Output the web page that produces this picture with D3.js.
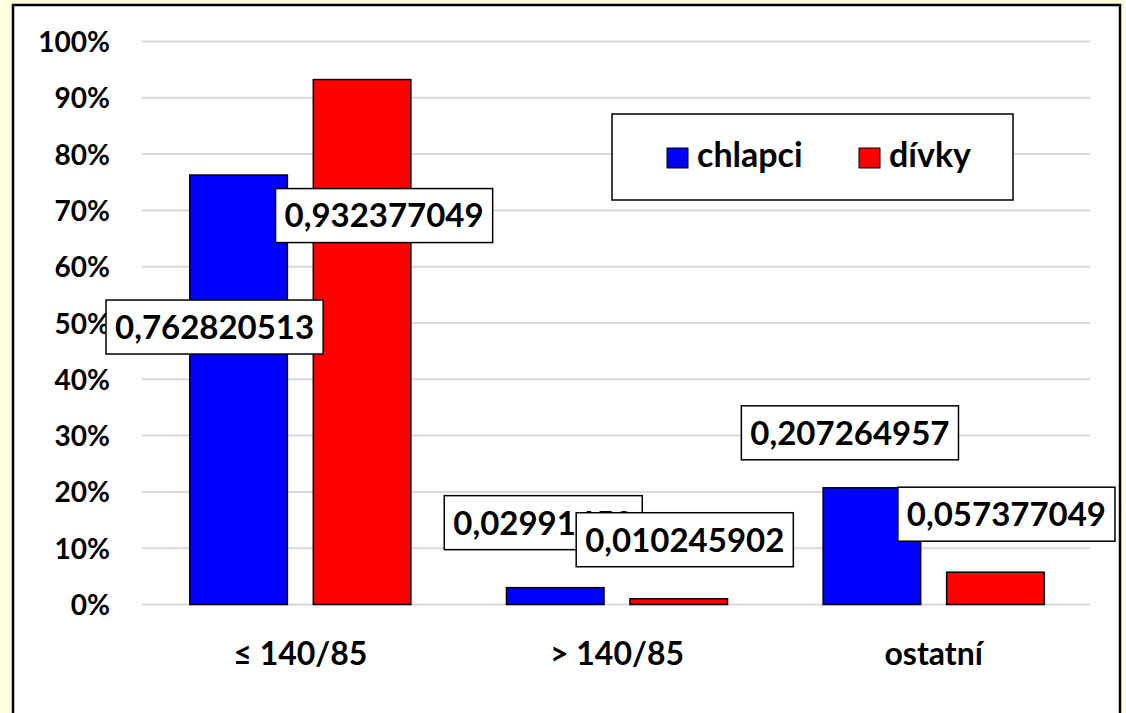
<!DOCTYPE html>
<html>
<head>
<meta charset="utf-8">
<script src="https://cdn.jsdelivr.net/npm/d3@7/dist/d3.min.js"></script>
<style>
  body { margin: 0; background: #FFFFDD; }
  text { font-family: Lato, "Open Sans", sans-serif; font-weight: bold; fill: #000; }
</style>
</head>
<body>
<div id="chart"></div>
<script>
// data
var categories = ["≤ 140/85", "> 140/85", "ostatní"]
var seriesNames = ["chlapci", "dívky"]
var chlapci = [0.762820513, 0.02991453, 0.207264957]
var divky = [0.932377049, 0.010245902, 0.057377049]
var yTicks = [0, 0.1, 0.2, 0.3, 0.4, 0.5, 0.6, 0.7, 0.8, 0.9, 1]
var colors = ["#0000FF", "#FF0000"]

// hand-placed data label offsets (px) from the top centre of each bar
var labelOffsets = [
  [[-24, 152], [-12, -65], [-22, -55]],
  [[22, 136], [6, -59], [11, -58]]
]

var width = 1126, height = 713

var svg = d3.select("#chart")
  .append("svg")
    .attr("width", width)
    .attr("height", height)

// chart frame
svg.append("rect")
  .attr("x", 13).attr("y", 5)
  .attr("width", 1107).attr("height", 740)
  .attr("fill", "#fff")
  .attr("stroke", "#000")
  .attr("stroke-width", 2.5)

var x = d3.scaleBand()
  .domain(categories)
  .range([142, 1092])

var x1 = d3.scaleBand()
  .domain(seriesNames)
  .range([0, x.bandwidth()])
  .paddingInner(0.21)
  .paddingOuter(0.387)

var y = d3.scaleLinear()
  .domain([0, 1])
  .range([604.5, 41.5])

// gridlines
svg.append("g")
  .selectAll("line")
  .data(yTicks)
  .enter()
  .append("line")
    .attr("x1", 142).attr("x2", 1090)
    .attr("y1", function(d) { return y(d) })
    .attr("y2", function(d) { return y(d) })
    .attr("stroke", "#d9d9d9")
    .attr("stroke-width", 2)

// y axis labels
var yAxis = svg.append("g")
  .attr("transform", "translate(110,0)")
  .call(d3.axisLeft(y).tickValues(yTicks).tickSize(0).tickPadding(0)
    .tickFormat(function(d) { return Math.round(d * 100) + "%" }))
yAxis.select(".domain").remove()
yAxis.selectAll("text")
  .style("font-family", "Lato, sans-serif")
  .style("font-weight", "bold")
  .style("font-size", "28px")
  .attr("dy", "0.36em")

// x axis labels
var xAxis = svg.append("g")
  .attr("transform", "translate(0,604.5)")
  .call(d3.axisBottom(x).tickSize(0).tickPadding(0))
xAxis.select(".domain").remove()
xAxis.selectAll("text")
  .style("font-family", "Lato, sans-serif")
  .style("font-weight", "bold")
  .style("font-size", "32px")
  .attr("dy", 0)
  .attr("y", 60)

var series = [chlapci, divky]

// bars
series.forEach(function(vals, s) {
  svg.append("g")
    .selectAll("rect")
    .data(vals)
    .enter()
    .append("rect")
      .attr("x", function(d, i) { return x(categories[i]) + x1(seriesNames[s]) })
      .attr("y", function(d) { return y(d) })
      .attr("width", x1.bandwidth())
      .attr("height", function(d) { return y(0) - y(d) })
      .attr("fill", colors[s])
      .attr("stroke", "#000")
      .attr("stroke-width", 1.5)
})

// data labels (boxes)
series.forEach(function(vals, s) {
  var g = svg.append("g")
  vals.forEach(function(d, i) {
    var cx = x(categories[i]) + x1(seriesNames[s]) + x1.bandwidth() / 2 + labelOffsets[s][i][0]
    var cy = y(d) + labelOffsets[s][i][1]
    var lg = g.append("g").attr("transform", "translate(" + cx + "," + cy + ")")
    var box = lg.append("rect")
      .attr("fill", "#fff")
      .attr("stroke", "#000")
      .attr("stroke-width", 1.5)
    var t = lg.append("text")
      .attr("text-anchor", "middle")
      .attr("dy", "0.36em")
      .style("font-size", "33px")
      .text(String(d).replace(".", ","))
    var w = t.node().getComputedTextLength()
    box.attr("x", -w / 2 - 9).attr("y", -27)
      .attr("width", w + 18).attr("height", 54)
  })
})

// legend
var legend = svg.append("g")
legend.append("rect")
  .attr("x", 612).attr("y", 114)
  .attr("width", 401).attr("height", 86)
  .attr("fill", "#fff")
  .attr("stroke", "#000")
  .attr("stroke-width", 1.5)

var legendX = [667, 859]
seriesNames.forEach(function(name, s) {
  legend.append("rect")
    .attr("x", legendX[s]).attr("y", 148)
    .attr("width", 21).attr("height", 20)
    .attr("fill", colors[s])
    .attr("stroke", "#000")
    .attr("stroke-width", 1)
  legend.append("text")
    .attr("x", legendX[s] + 30).attr("y", 167)
    .style("font-size", "34px")
    .text(name)
})
</script>
</body>
</html>
